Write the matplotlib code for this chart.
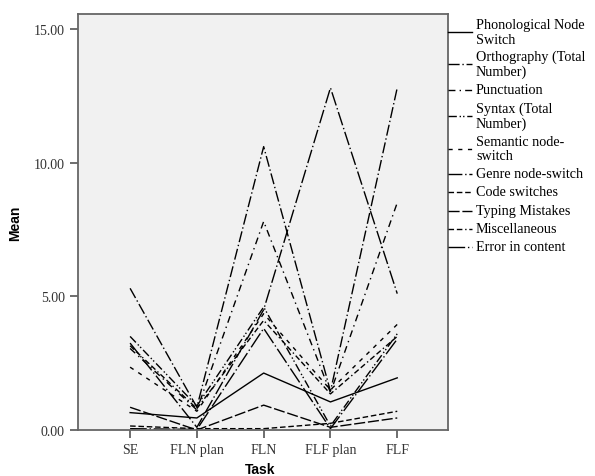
import numpy as np
import matplotlib.pyplot as plt
from matplotlib.lines import Line2D

# categories on the x axis
tasks = ['SE', 'FLN plan', 'FLN', 'FLF plan', 'FLF']

# mean values
phonological = [0.65, 0.45, 2.13, 1.05, 1.95]
orthography = [5.3, 0.85, 10.6, 1.45, 12.8]
punctuation = [3.05, 0.75, 7.8, 1.4, 8.5]
syntax = [3.5, 0.9, 4.6, 0.15, 3.6]
semantic = [2.35, 0.7, 4.35, 1.5, 3.95]
genre = [3.25, 0.1, 4.5, 12.8, 5.1]
code_sw = [0.15, 0.05, 0.05, 0.25, 0.7]
typing = [0.85, 0.0, 0.93, 0.1, 0.45]
misc = [3.15, 0.8, 4.1, 1.35, 3.5]
error_content = [0.05, 0.02, 3.8, 0.05, 3.4]

labels = ['Phonological Node\nSwitch', 'Orthography (Total\nNumber)', 'Punctuation',
          'Syntax (Total\nNumber)', 'Semantic node-\nswitch', 'Genre node-switch',
          'Code switches', 'Typing Mistakes', 'Miscellaneous', 'Error in content']
series = [phonological, orthography, punctuation, syntax, semantic, genre,
          code_sw, typing, misc, error_content]
styles = ['-', (0, (8, 2, 1, 2)), (0, (5, 3, 1, 3)), (0, (6, 2, 1, 1.5, 1, 2)),
          (0, (3, 4)), (0, (10, 2, 1, 2)), (0, (4, 2)), (0, (8, 2)),
          (0, (4, 2, 4, 2, 1, 2)), (0, (12, 2, 1, 2))]

W, H = 595, 477
fig = plt.figure(figsize=(W / 100, H / 100), dpi=100)
ax = fig.add_axes([78 / W, 1 - 431 / H, 370 / W, 416 / H])
ax.set_facecolor('#f1f1f1')

xx = np.arange(len(tasks))
for vals, ls in zip(series, styles):
    ax.plot(xx, vals, color='black', linestyle=ls, linewidth=1.0)

ax.set_xlim(-0.78, 4.76)
ax.set_ylim(0, 15.56)
ax.set_yticks([0, 5, 10, 15])
ax.set_yticklabels(['0.00', '5.00', '10.00', '15.00'])
ax.set_xticks(xx)
ax.set_xticklabels(tasks)
for lab in ax.get_xticklabels() + ax.get_yticklabels():
    lab.set_family('Liberation Serif')
    lab.set_fontsize(10)
    lab.set_color('#333333')
ax.tick_params(axis='both', length=6, width=1.2, color='#555555')
for s in ax.spines.values():
    s.set_color('#666666')
    s.set_linewidth(1.3)

ax.set_ylabel('Mean', family='Liberation Sans', fontweight='bold', fontsize=10)
ax.yaxis.set_label_coords(-0.15, 0.5)
fig.text(260 / W, 1 - 470 / H, 'Task', family='Liberation Sans', fontweight='bold',
         fontsize=10, ha='center', va='center')

# legend drawn by hand next to the right spine
line_y = [33, 65, 91, 117, 150, 175, 193, 212, 230, 248]
for yy, ls, lab in zip(line_y, styles, labels):
    fig.add_artist(Line2D([448 / W, 472 / W], [1 - yy / H, 1 - yy / H],
                          color='black', linestyle=ls, linewidth=1.0,
                          transform=fig.transFigure))
    fig.text(476 / W, 1 - yy / H, lab, family='Liberation Serif', fontsize=10.2,
             ha='left', va='center', linespacing=1.1)

plt.savefig('out.png', dpi=100)
